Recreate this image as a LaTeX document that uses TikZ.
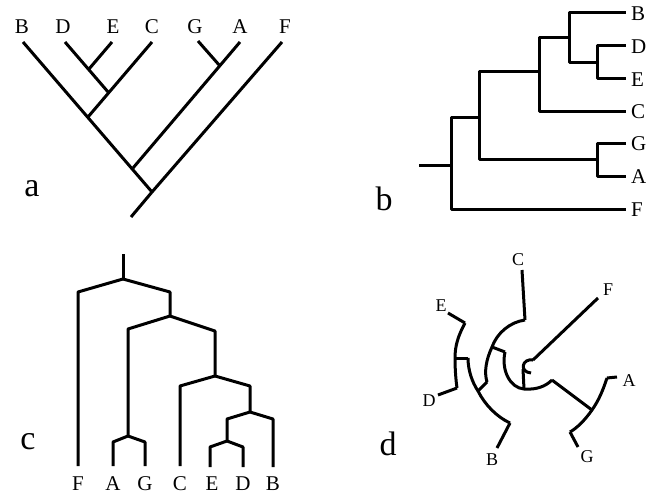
\documentclass[tikz,border=0pt]{standalone}
\usepackage{fontspec}
\setmainfont{Liberation Serif}
\begin{document}
\begin{tikzpicture}[x=1pt,y=-1pt,
  br/.style={line width=3pt, line join=round},
  lab/.style={font=\fontsize{21}{21}\selectfont, inner sep=0pt},
  dlab/.style={font=\fontsize{18}{18}\selectfont, inner sep=0pt},
  panel/.style={font=\fontsize{34}{34}\selectfont, inner sep=0pt}]
\useasboundingbox (0,0) rectangle (648,498);

% ---------------- panel a ----------------
\node[lab] (laB) at (22,27) {B};
\node[lab] (laD) at (63,27) {D};
\node[lab] (laE) at (113,27) {E};
\node[lab] (laC) at (152,27) {C};
\node[lab] (laG) at (195,27) {G};
\node[lab] (laA) at (240,27) {A};
\node[lab] (laF) at (285,27) {F};
\coordinate (aB) at (23,42);
\coordinate (aD) at (65,42);
\coordinate (aE) at (112,42);
\coordinate (aC) at (152,42);
\coordinate (aG) at (198,41);
\coordinate (aA) at (240,42);
\coordinate (aF) at (282,42);
\coordinate (aR) at (152,192);
\coordinate (aS) at (131,217);
\coordinate (aDE) at (89,69);
\coordinate (aDEC) at (108.5,92.5);
\coordinate (aBDEC) at (88,117);
\coordinate (aGA) at (220,66);
\coordinate (aAB) at (133,168);
\draw[br] (aB) -- (aR);
\draw[br] (aF) -- (aR) -- (aS);
\draw[br] (aD) -- (aDEC);
\draw[br] (aE) -- (aDE);
\draw[br] (aC) -- (aBDEC);
\draw[br] (aG) -- (aGA);
\draw[br] (aA) -- (aAB);
\node[panel] (pa) at (32,189) {a};

% ---------------- panel b ----------------
\coordinate (bS) at (419,165);
\coordinate (bR) at (451,165);
\coordinate (bN1) at (479,117);
\coordinate (bN2) at (539,71);
\coordinate (bN3) at (569,37);
\coordinate (bDE) at (597,62);
\coordinate (bGA) at (597,159);
\coordinate (bB) at (626,12);
\coordinate (bD) at (626,45);
\coordinate (bE) at (626,78);
\coordinate (bC) at (626,111);
\coordinate (bG) at (626,143);
\coordinate (bA) at (626,176);
\coordinate (bF) at (626,209);
\draw[br] (bS) -- (bR);
\draw[br] (bR) |- (bN1);
\draw[br] (bR) |- (bF);
\draw[br] (bN1) |- (bN2);
\draw[br] (bN1) |- (bGA);
\draw[br] (bN2) |- (bN3);
\draw[br] (bN2) |- (bC);
\draw[br] (bN3) |- (bB);
\draw[br] (bN3) |- (bDE);
\draw[br] (bDE) |- (bD);
\draw[br] (bDE) |- (bE);
\draw[br] (bGA) |- (bG);
\draw[br] (bGA) |- (bA);
\node[lab,anchor=west] (lbB) at (631,14) {B};
\node[lab,anchor=west] (lbD) at (631,47) {D};
\node[lab,anchor=west] (lbE) at (631,80) {E};
\node[lab,anchor=west] (lbC) at (631,112) {C};
\node[lab,anchor=west] (lbG) at (631,144) {G};
\node[lab,anchor=west] (lbA) at (631,177) {A};
\node[lab,anchor=west] (lbF) at (631,210) {F};
\node[panel] (pb) at (384,199) {b};

% ---------------- panel c ----------------
\coordinate (cTop) at (123,254);
\coordinate (cR) at (123,279);
\coordinate (cFs) at (78,292);
\coordinate (cFb) at (78,466);
\coordinate (cN1s) at (170,292);
\coordinate (cN1) at (170,316);
\coordinate (cN2s) at (128,329);
\coordinate (cN2) at (128,436);
\coordinate (cAs) at (113,442);
\coordinate (cAb) at (113,466);
\coordinate (cGs) at (145,442);
\coordinate (cGb) at (145,466);
\coordinate (cN3s) at (215,331);
\coordinate (cN3) at (215,376);
\coordinate (cCs) at (180,386);
\coordinate (cCb) at (180,466);
\coordinate (cN4s) at (250,386);
\coordinate (cN4) at (250,412);
\coordinate (cBs) at (273,419);
\coordinate (cBb) at (273,467);
\coordinate (cN5s) at (227,419);
\coordinate (cN5) at (227,441);
\coordinate (cEs) at (210,447);
\coordinate (cEb) at (210,467);
\coordinate (cDs) at (243,447);
\coordinate (cDb) at (243,467);
\draw[br] (cTop) -- (cR);
\draw[br] (cR) -- (cFs) -- (cFb);
\draw[br] (cR) -- (cN1s) -- (cN1);
\draw[br] (cN1) -- (cN2s) -- (cN2);
\draw[br] (cN2) -- (cAs) -- (cAb);
\draw[br] (cN2) -- (cGs) -- (cGb);
\draw[br] (cN1) -- (cN3s) -- (cN3);
\draw[br] (cN3) -- (cCs) -- (cCb);
\draw[br] (cN3) -- (cN4s) -- (cN4);
\draw[br] (cN4) -- (cBs) -- (cBb);
\draw[br] (cN4) -- (cN5s) -- (cN5);
\draw[br] (cN5) -- (cEs) -- (cEb);
\draw[br] (cN5) -- (cDs) -- (cDb);
\node[lab] (lcF) at (78,484) {F};
\node[lab] (lcA) at (113,484) {A};
\node[lab] (lcG) at (145,484) {G};
\node[lab] (lcC) at (180,484) {C};
\node[lab] (lcE) at (212,484) {E};
\node[lab] (lcD) at (243,484) {D};
\node[lab] (lcB) at (273,484) {B};
\node[panel] (pc) at (28,442) {c};

% ---------------- panel d ----------------
\coordinate (dC1) at (522,270);
\coordinate (dC0) at (525,320);
\coordinate (dF1) at (598,298);
\coordinate (dF0) at (533,360);
\coordinate (dE1) at (448,313);
\coordinate (dE0) at (465,323);
\coordinate (dD1) at (438,395);
\coordinate (dD0) at (457,388);
\coordinate (dB1) at (497,448);
\coordinate (dB0) at (510,423);
\coordinate (dA1) at (617,377);
\coordinate (dA0) at (607,378);
\coordinate (dG1) at (578,447);
\coordinate (dG0) at (570,432);
\coordinate (dDE) at (455,358);
\coordinate (dBDEa) at (468,358);
\coordinate (dBDE) at (478,391);
\coordinate (dCn) at (492,347);
\coordinate (dCe) at (487,382);
\coordinate (dP1) at (505,352);
\coordinate (dBG) at (524,389);
\coordinate (dP2) at (552,380);
\coordinate (dGA) at (592,410);
\coordinate (dRoot) at (523,369);
\coordinate (dHook) at (531,373);
\draw[br] (dC1) -- (dC0);
\draw[br] (dF1) -- (dF0);
\draw[br] (dE1) -- (dE0);
\draw[br] (dD1) -- (dD0);
\draw[br] (dB1) -- (dB0);
\draw[br] (dA1) -- (dA0);
\draw[br] (dG1) -- (dG0);
\draw[br] (dE0) .. controls (458,336) and (455,346) .. (dDE)
             .. controls (455,370) and (456,381) .. (dD0);
\draw[br] (dDE) -- (dBDEa);
\draw[br] (dBDEa) .. controls (468,370) and (472,382) .. (dBDE)
              .. controls (485,405) and (497,417) .. (dB0);
\draw[br] (dC0) .. controls (510,322) and (497,333) .. (dCn)
            .. controls (486,360) and (484,372) .. (dCe);
\draw[br] (dCe) -- (dBDE);
\draw[br] (dCn) -- (dP1);
\draw[br] (dP1) .. controls (501,370) and (510,388) .. (dBG)
            .. controls (537,390) and (546,386) .. (dP2);
\draw[br] (dP2) -- (dGA);
\draw[br] (dA0) .. controls (603,390) and (599,400) .. (dGA)
            .. controls (585,420) and (577,428) .. (dG0);
\draw[br] (dF0) .. controls (522,358) and (519,372) .. (dHook);
\draw[br] (dRoot) -- (dBG);
\node[dlab] (ldC) at (518,260) {C};
\node[dlab] (ldF) at (608,290) {F};
\node[dlab] (ldE) at (441,306) {E};
\node[dlab] (ldD) at (429,401) {D};
\node[dlab] (ldB) at (492,460) {B};
\node[dlab] (ldG) at (587,457) {G};
\node[dlab] (ldA) at (629,381) {A};
\node[panel] (pd) at (388,444) {d};
\end{tikzpicture}
\end{document}
